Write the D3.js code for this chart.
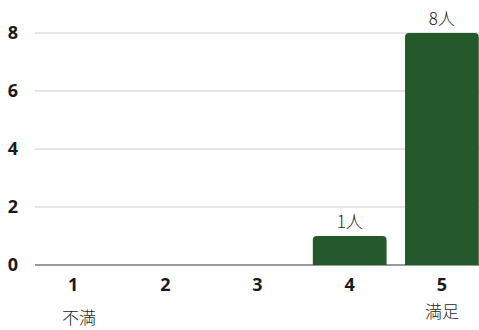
<!DOCTYPE html>
<html><head><meta charset="utf-8">
<script src="https://cdn.jsdelivr.net/npm/d3@7"></script>
<style>body{margin:0;background:#fff}svg{display:block}</style>
</head><body><svg id="c" width="479" height="330"></svg>
<script>
const categories = ["1","2","3","4","5"];
const values = [0,0,0,1,8];
const valueLabels = ["","","","1人","8人"];
const yTicks = [0,2,4,6,8];
const endLabels = [{cat:"1", text:"不満", dy:53, dx:6}, {cat:"5", text:"満足", dy:47, dx:0}];

const svg = d3.select("#c");
const W = 479, H = 330;
const x = d3.scaleBand().domain(categories).range([27, 488]).paddingInner(0.2).paddingOuter(0.1);
const y = d3.scaleLinear().domain([0, 8]).range([265, 33]);

// gridlines
svg.append("g").selectAll("line").data(yTicks).join("line")
  .attr("x1", 35).attr("x2", W)
  .attr("y1", d => y(d)).attr("y2", d => y(d))
  .attr("stroke", d => d === 0 ? "#777" : "#ddd")
  .attr("stroke-width", 1.5);

// y labels
svg.append("g").selectAll("text").data(yTicks).join("text")
  .attr("x", 13).attr("y", d => y(d)).attr("dy", "0.36em")
  .attr("text-anchor", "middle")
  .attr("font-family", "'Open Sans', 'Noto Sans', sans-serif")
  .attr("font-weight", "bold").attr("font-size", 18).attr("fill", "#1a1a1a")
  .text(d => d);

// bars with rounded top
const r = 4;
svg.append("g").selectAll("path").data(categories.map((c,i)=>({c, v:values[i]})).filter(d=>d.v>0)).join("path")
  .attr("fill", "#245a2b")
  .attr("d", d => {
    const x0 = x(d.c), w = x.bandwidth(), y0 = y(d.v), yb = y(0);
    return `M${x0},${yb} L${x0},${y0+r} Q${x0},${y0} ${x0+r},${y0} L${x0+w-r},${y0} Q${x0+w},${y0} ${x0+w},${y0+r} L${x0+w},${yb} Z`;
  });

// value labels
svg.append("g").selectAll("text").data(categories.map((c,i)=>({c, v:values[i], t:valueLabels[i]})).filter(d=>d.t)).join("text")
  .attr("x", d => x(d.c) + x.bandwidth()/2).attr("y", d => y(d.v) - 8)
  .attr("text-anchor", "middle")
  .attr("font-family", "'Noto Sans CJK JP', sans-serif")
  .attr("font-weight", 300)
  .attr("font-size", 17).attr("fill", "#222")
  .text(d => d.t);

// x labels
svg.append("g").selectAll("text").data(categories).join("text")
  .attr("x", d => x(d) + x.bandwidth()/2).attr("y", y(0) + 20).attr("dy", "0.36em")
  .attr("text-anchor", "middle")
  .attr("font-family", "'Open Sans', 'Noto Sans', sans-serif")
  .attr("font-weight", "bold").attr("font-size", 18).attr("fill", "#1a1a1a")
  .text(d => d);

// end labels
svg.append("g").selectAll("text").data(endLabels).join("text")
  .attr("x", d => x(d.cat) + x.bandwidth()/2 + d.dx).attr("y", d => y(0) + d.dy).attr("dy", "0.36em")
  .attr("text-anchor", "middle")
  .attr("font-family", "'Noto Sans CJK JP', sans-serif")
  .attr("font-weight", 300)
  .attr("font-size", 17).attr("fill", "#222")
  .text(d => d.text);
</script></body></html>
